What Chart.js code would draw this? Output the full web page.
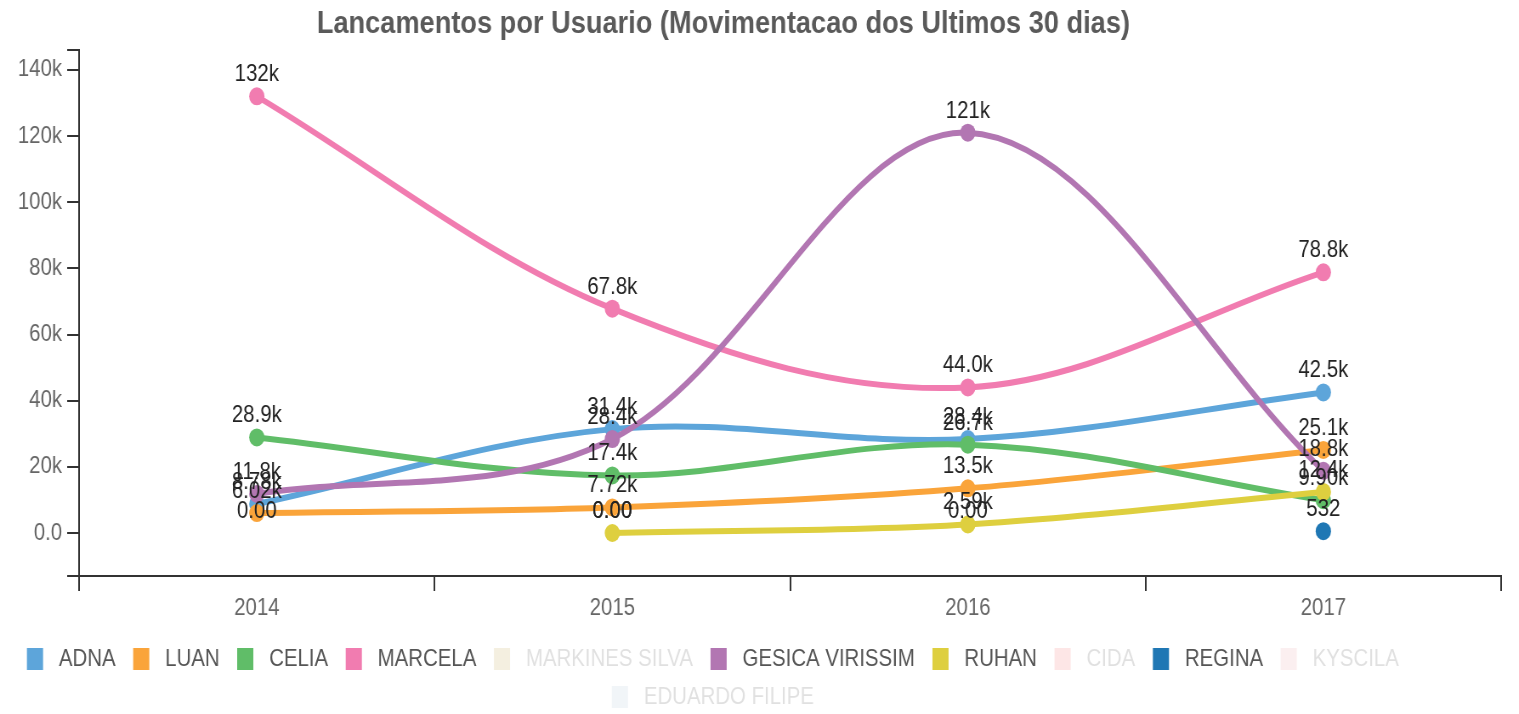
<!DOCTYPE html>
<html>
<head>
<meta charset="utf-8">
<script src="https://cdn.jsdelivr.net/npm/chart.js@4.4.1/dist/chart.umd.min.js"></script>
<style>
  html, body { margin: 0; padding: 0; background: #ffffff; overflow: hidden; }
  #wrap { width: 1519px; height: 714px; position: relative; overflow: hidden; }
  #c { position: absolute; left: 0; top: 0; transform: scaleX(0.85); transform-origin: 0 0; }
</style>
</head>
<body>
<div id="wrap"><canvas id="c" width="1787" height="714"></canvas></div>
<script>
// ---- data ----
const categories = ['2014', '2015', '2016', '2017'];
const seriesNames = ['ADNA', 'LUAN', 'CELIA', 'MARCELA', 'MARKINES SILVA', 'GESICA VIRISSIM', 'RUHAN', 'CIDA', 'REGINA', 'KYSCILA', 'EDUARDO FILIPE'];
const adna          = [8780, 31400, 28400, 42500];
const luan          = [6020, 7720, 13500, 25100];
const celia         = [28900, 17400, 26700, 9900];
const marcela       = [132000, 67800, 44000, 78800];
const markinesSilva = [0, 0, 0, null];
const gesica        = [11800, 28400, 121000, 18800];
const ruhan         = [null, 0, 2590, 12400];
const cida          = [null, null, null, null];
const regina        = [null, null, null, 532];
const kyscila       = [null, null, null, null];
const eduardo       = [null, null, null, null];
const hiddenSeries  = ['MARKINES SILVA', 'CIDA', 'KYSCILA', 'EDUARDO FILIPE'];
const yTickValues   = [0, 20000, 40000, 60000, 80000, 100000, 120000, 140000];
const yTickLabels   = ['0.0', '20k', '40k', '60k', '80k', '100k', '120k', '140k'];
const yMin = -13000;
const yMax = 146000;

const seriesValues = [adna, luan, celia, marcela, markinesSilva, gesica, ruhan, cida, regina, kyscila, eduardo];
const seriesColors = ['#5DA5DA', '#FAA43A', '#60BD68', '#F17CB0', '#B2912F', '#B276B2', '#DECF3F', '#F15854', '#1F77B4', '#E7969C', '#9EB9D3'];

const FONT = "'Liberation Sans', Arial, sans-serif";

function fmt3s(v) {
  if (v === 0) return '0.00';
  const a = Math.abs(v);
  if (a >= 1000) return (v / 1000).toPrecision(3) + 'k';
  return v.toPrecision(3);
}
function hexA(hex, a) {
  const n = parseInt(hex.slice(1), 16);
  return 'rgba(' + ((n >> 16) & 255) + ',' + ((n >> 8) & 255) + ',' + (n & 255) + ',' + a + ')';
}

const datasets = seriesNames.map((name, i) => ({
  label: name,
  data: seriesValues[i],
  borderColor: seriesColors[i],
  backgroundColor: seriesColors[i],
  pointBackgroundColor: seriesColors[i],
  pointBorderColor: seriesColors[i],
  pointBorderWidth: 0,
  pointRadius: 9,
  pointHoverRadius: 9,
  borderWidth: 6,
  tension: 0.35,
  fill: false,
  spanGaps: false,
  hidden: hiddenSeries.includes(name),
  order: -i
}));

// data labels (drawn for every series, like the original)
const labelPlugin = {
  id: 'valueLabels',
  afterDatasetsDraw(chart) {
    const ctx = chart.ctx;
    const xs = chart.scales.x, ys = chart.scales.y;
    ctx.save();
    ctx.font = '24px ' + FONT;
    ctx.fillStyle = '#222';
    ctx.textAlign = 'center';
    ctx.textBaseline = 'alphabetic';
    chart.data.datasets.forEach((ds) => {
      ds.data.forEach((v, i) => {
        if (v === null || v === undefined) return;
        const x = xs.getPixelForValue(i);
        const y = ys.getPixelForValue(v);
        ctx.fillText(fmt3s(v), x, y - 15);
      });
    });
    ctx.restore();
  }
};

const shiftPlugin = {
  id: 'shiftBoxes',
  afterLayout(chart) {
    const t = chart.titleBlock;
    if (t) { t.left -= 32; t.right -= 32; }
    const l = chart.legend;
    if (l) { l.left -= 41; l.right -= 41; l.top += 5; l.bottom += 5; }
  }
};

new Chart(document.getElementById('c'), {
  type: 'line',
  data: { labels: categories, datasets: datasets },
  plugins: [labelPlugin, shiftPlugin],
  options: {
    responsive: false,
    animation: false,
    layout: { padding: { left: 0, right: 21, top: 0, bottom: 0 } },
    plugins: {
      title: {
        display: true,
        text: 'Lancamentos por Usuario (Movimentacao dos Ultimos 30 dias)',
        color: '#5a5a5a',
        font: { family: FONT, size: 32, weight: 'bold' },
        padding: { top: 4.6, bottom: 7 }
      },
      legend: {
        position: 'bottom',
        labels: {
          font: { family: FONT, size: 24 },
          boxWidth: 19,
          boxHeight: 22,
          padding: 14,
          generateLabels(chart) {
            return chart.data.datasets.map((ds, i) => {
              const off = hiddenSeries.includes(ds.label);
              return {
                text: ' ' + ds.label + ' ',
                fillStyle: off ? hexA(seriesColors[i], 0.15) : seriesColors[i],
                strokeStyle: off ? hexA(seriesColors[i], 0.15) : seriesColors[i],
                lineWidth: 0,
                hidden: false,
                fontColor: off ? 'rgba(85,85,85,0.18)' : '#555',
                datasetIndex: i
              };
            });
          }
        },
        onClick() {}
      },
      tooltip: { enabled: false }
    },
    scales: {
      x: {
        type: 'category',
        offset: true,
        border: { display: true, color: '#333', width: 2 },
        grid: { display: true, drawOnChartArea: false, drawTicks: true, tickLength: 15, color: '#333', lineWidth: 2, offset: true },
        ticks: { color: '#666', font: { family: FONT, size: 24 }, padding: 3, maxRotation: 0 },
        afterFit(scale) { scale.height = 52; }
      },
      y: {
        min: yMin,
        max: yMax,
        border: { display: true, color: '#333', width: 2 },
        grid: { display: true, drawOnChartArea: false, drawTicks: true, tickLength: 14, color: '#333', lineWidth: 2 },
        afterBuildTicks(scale) {
          scale.ticks = [yMin].concat(yTickValues, [yMax]).map(v => ({ value: v }));
        },
        afterFit(scale) { scale.width = 93; },
        ticks: {
          color: '#666',
          font: { family: FONT, size: 24 },
          padding: 6,
          callback(value) {
            const k = yTickValues.indexOf(value);
            return k >= 0 ? yTickLabels[k] : '';
          }
        }
      }
    }
  }
});
</script>
</body>
</html>
